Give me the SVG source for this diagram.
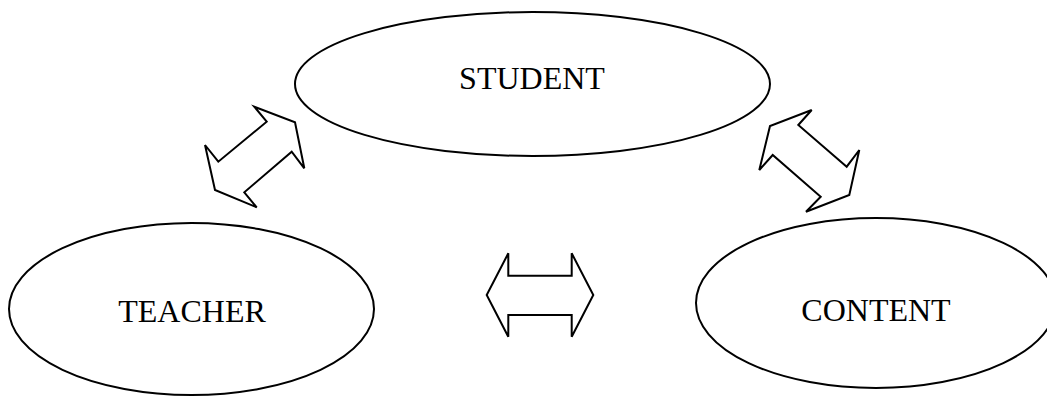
<svg xmlns="http://www.w3.org/2000/svg" width="1047" height="397" viewBox="0 0 1047 397">
<style>
.node{fill:#fff;stroke:#000;stroke-width:2}
.lbl{font-family:"Liberation Serif","Times New Roman",serif;font-size:32px;fill:#000;text-anchor:middle}
.arr{fill:#fff;stroke:#000;stroke-width:2;stroke-linejoin:miter}
</style>
<rect width="1047" height="397" fill="#fff"/>
<g id="student">
<ellipse class="node" cx="532.5" cy="84" rx="237.5" ry="72"/>
<text class="lbl" x="532" y="89">STUDENT</text>
</g>
<g id="teacher">
<ellipse class="node" cx="191.5" cy="309" rx="182.5" ry="86"/>
<text class="lbl" x="192" y="321.5">TEACHER</text>
</g>
<g id="content">
<ellipse class="node" cx="876" cy="303" rx="180" ry="85"/>
<text class="lbl" x="876" y="320.5">CONTENT</text>
</g>
<g id="connectors">
<polygon class="arr" points="254.3,106.7 295,122.3 304.3,168.3 291.7,151.7 244.3,192.3 256.7,207.3 215,190 205,145 218.3,161.7 266.7,121.7"/>
<polygon class="arr" points="811.7,110 770,126 759.3,170 772.7,155 820.7,196.7 806,211.7 849.3,195 859.3,150 846.7,166.7 798.3,125"/>
<polygon class="arr" points="486.7,295 508.3,253.3 508.3,275.7 571.7,275.7 571.7,253.3 593.3,295 571.7,336.7 571.7,315 508.3,315 508.3,336.7"/>
</g>
</svg>
